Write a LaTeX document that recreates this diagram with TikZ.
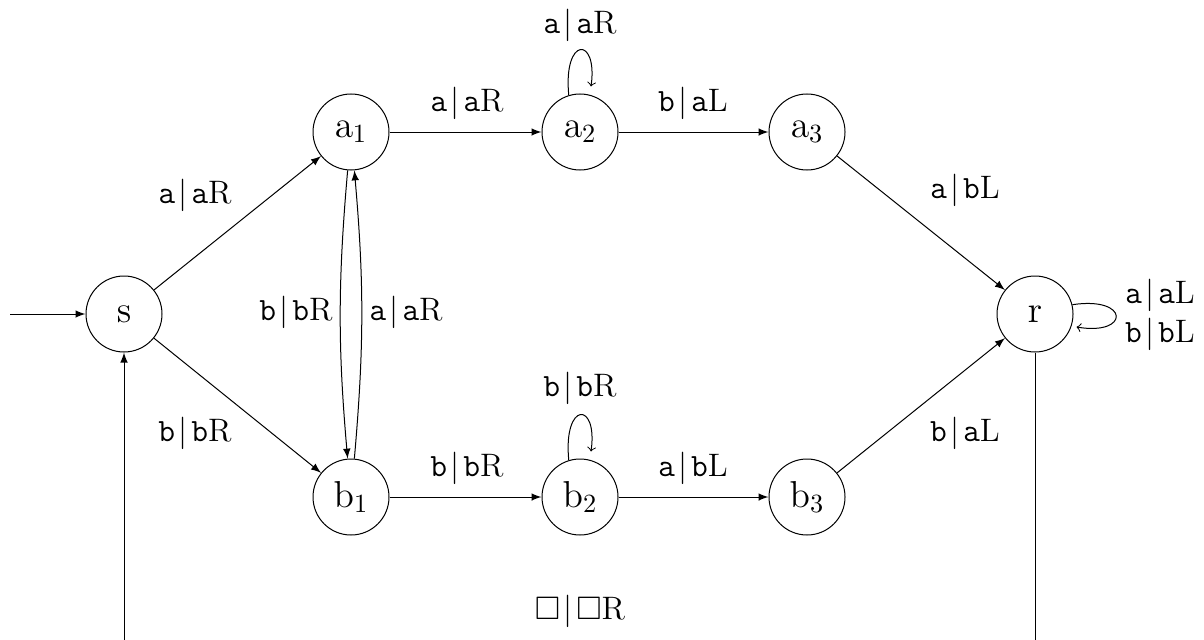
\documentclass[tikz,border=0pt]{standalone}
\usepackage{fix-cm}
\usepackage{amssymb}
\usetikzlibrary{arrows,calc}
\newcommand{\tr}[3]{$\mathtt{#1}\mkern2mu|\mkern2mu\mathtt{#2}\mathrm{#3}$}
\begin{document}
\begin{tikzpicture}[x=0.4pt,y=-0.4pt,
  stnode/.style={circle,draw,minimum size=30.4pt,inner sep=0pt,font=\fontsize{15}{18}\selectfont},
  edge/.style={-latex},
  loopedge/.style={->},
  lab/.style={inner sep=1pt,font=\fontsize{13}{15.6}\selectfont}]
\useasboundingbox (0,0) rectangle (1204,639);
\clip (0,0) rectangle (1204,639);

% states
\node[stnode] (s)  at (124,314)  {$\mathrm{s}$};
\node[stnode] (a1) at (351,132)  {$\mathrm{a}_1$};
\node[stnode] (a2) at (580,132)  {$\mathrm{a}_2$};
\node[stnode] (a3) at (807,132)  {$\mathrm{a}_3$};
\node[stnode] (b1) at (351,497)  {$\mathrm{b}_1$};
\node[stnode] (b2) at (580,497)  {$\mathrm{b}_2$};
\node[stnode] (b3) at (807,497)  {$\mathrm{b}_3$};
\node[stnode] (r)  at (1035,314) {$\mathrm{r}$};

% start arrow
\coordinate (start) at (10,314);
\draw[edge] (start) -- (s);

% transitions
\draw[edge] (s) -- (a1);
\draw[edge] (s) -- (b1);
\draw[edge] (a1) to[bend right=5] (b1);
\draw[edge] (b1) to[bend right=5] (a1);
\draw[edge] (a1) -- (a2);
\draw[edge] (a2) -- (a3);
\draw[edge] (b1) -- (b2);
\draw[edge] (b2) -- (b3);
\draw[edge] (a3) -- (r);
\draw[edge] (b3) -- (r);

% self loops
\draw[loopedge] (a2.107) .. controls (563,36) and (598,36) .. ($(a2.north)+(11,-7)$);
\draw[loopedge] (b2.107) .. controls (563,401) and (598,401) .. ($(b2.north)+(11,-7)$);
\draw[loopedge] (r.14) .. controls (1130,296) and (1130,336) .. ($(r.east)+(3,13)$);

% return path along the bottom
\coordinate (rb) at (1035,680);
\coordinate (sb) at (124,680);
\draw[edge] (r) -- (rb) -- (sb) -- (s);

% labels
\node[lab] (l1)  at (195,195)  {\tr{a}{a}{R}};
\node[lab] (l2)  at (195,433)  {\tr{b}{b}{R}};
\node[lab] (l3)  at (296,312)  {\tr{b}{b}{R}};
\node[lab] (l4)  at (406,312)  {\tr{a}{a}{R}};
\node[lab] (l5)  at (467,103)  {\tr{a}{a}{R}};
\node[lab] (l6)  at (693,103)  {\tr{b}{a}{L}};
\node[lab] (l7)  at (467,468)  {\tr{b}{b}{R}};
\node[lab] (l8)  at (693,468)  {\tr{a}{b}{L}};
\node[lab] (l9)  at (965,190)  {\tr{a}{b}{L}};
\node[lab] (l10) at (965,433)  {\tr{b}{a}{L}};
\node[lab] (l11) at (580,25)   {\tr{a}{a}{R}};
\node[lab] (l12) at (580,388)  {\tr{b}{b}{R}};
\node[lab,align=left] (l13) at (1160,315) {\tr{a}{a}{L}\\\tr{b}{b}{L}};
\node[lab] (l14) at (580,611)  {$\square\mkern2mu|\mkern2mu\square\mathrm{R}$};
\end{tikzpicture}
\end{document}
